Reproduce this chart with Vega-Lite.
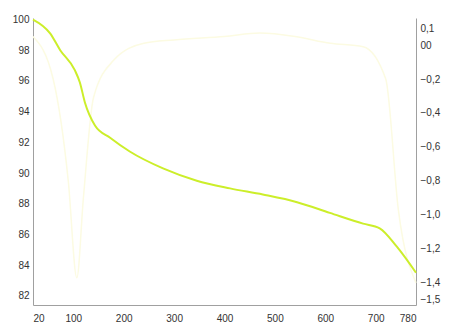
{
  "$schema": "https://vega.github.io/schema/vega-lite/v6.json",
  "width": 383,
  "height": 287,
  "autosize": {"type": "none"},
  "padding": {"left": 33, "top": 18, "right": 33, "bottom": 26},
  "background": "white",
  "config": {
    "view": {"stroke": null},
    "axis": {"labelFont": "Liberation Sans", "labelFontSize": 10, "labelColor": "#333", "domainColor": "#a0a0a0", "grid": false, "ticks": false, "title": null}
  },
  "datasets": {
    "tg": [
      {"t": 20, "m": 100.0}, {"t": 54, "m": 99.1}, {"t": 74, "m": 98.0}, {"t": 103, "m": 96.7},
      {"t": 113, "m": 95.9}, {"t": 123, "m": 94.6}, {"t": 143, "m": 93.1}, {"t": 173, "m": 92.3},
      {"t": 212, "m": 91.4}, {"t": 278, "m": 90.3}, {"t": 345, "m": 89.5}, {"t": 411, "m": 89.0},
      {"t": 476, "m": 88.6}, {"t": 544, "m": 88.1}, {"t": 609, "m": 87.4}, {"t": 675, "m": 86.7},
      {"t": 708, "m": 86.4}, {"t": 742, "m": 85.2}, {"t": 780, "m": 83.5}
    ],
    "dtg": [
      {"t": 20, "d": 0.05}, {"t": 60, "d": -0.2}, {"t": 90, "d": -0.8}, {"t": 107, "d": -1.37},
      {"t": 120, "d": -0.9}, {"t": 140, "d": -0.31}, {"t": 180, "d": -0.09}, {"t": 240, "d": 0.01},
      {"t": 300, "d": 0.03}, {"t": 400, "d": 0.05}, {"t": 470, "d": 0.07}, {"t": 540, "d": 0.05},
      {"t": 610, "d": 0.01}, {"t": 675, "d": -0.01}, {"t": 720, "d": -0.2}, {"t": 745, "d": -0.97},
      {"t": 780, "d": -1.4}
    ]
  },
  "layer": [
    {
      "data": {"name": "dtg"},
      "mark": {"type": "line", "color": "#fcfbe2", "strokeWidth": 1.5, "interpolate": "monotone"},
      "encoding": {
        "x": {"field": "t", "type": "quantitative", "scale": {"domain": [20, 780], "nice": false, "zero": false},
              "axis": {"values": [20, 100, 200, 300, 400, 500, 600, 700, 780], "labelPadding": 8}},
        "y": {"field": "d", "type": "quantitative", "scale": {"domain": [-1.53, 0.159], "nice": false, "zero": false},
              "axis": {"orient": "right", "values": [0.1, 0, -0.2, -0.4, -0.6, -0.8, -1.0, -1.2, -1.4, -1.5],
                       "labelExpr": "datum.value == 0 ? '00' : replace(format(datum.value, '.1f'), '.', ',')", "labelPadding": 4}}
      }
    },
    {
      "data": {"name": "tg"},
      "mark": {"type": "line", "color": "#ccee2a", "strokeWidth": 2, "interpolate": "monotone"},
      "encoding": {
        "x": {"field": "t", "type": "quantitative", "scale": {"domain": [20, 780], "nice": false, "zero": false}},
        "y": {"field": "m", "type": "quantitative", "scale": {"domain": [81.4, 100.1], "nice": false, "zero": false},
              "axis": {"orient": "left", "values": [82, 84, 86, 88, 90, 92, 94, 96, 98, 100], "labelPadding": 4}}
      }
    }
  ],
  "resolve": {"scale": {"y": "independent"}, "axis": {"y": "independent"}}
}
